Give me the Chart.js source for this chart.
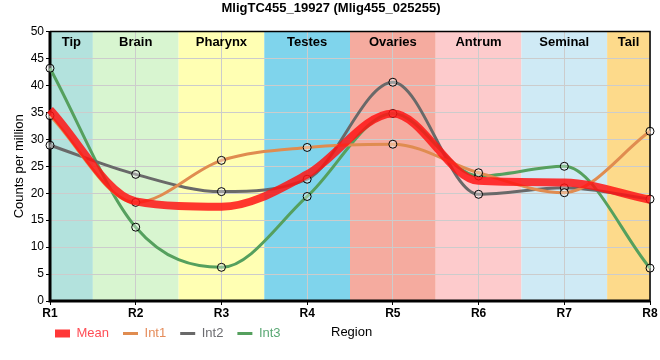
<!DOCTYPE html>
<html><head><meta charset="utf-8">
<script src="https://cdn.jsdelivr.net/npm/chart.js@4/dist/chart.umd.min.js"></script>
<style>html,body{margin:0;padding:0;background:#fff}#wrap{width:660px;height:360px}</style>
</head><body><div id="wrap"><canvas id="c" width="660" height="360"></canvas></div>
<script>
const categories = ['R1','R2','R3','R4','R5','R6','R7','R8'];
const meanValues = [35.5, 18.5, 17.5, 23.5, 34.8, 22.3, 22.0, 18.8];
const int1Values = [34.4, 18.3, 26.1, 28.5, 29.1, 23.8, 20.1, 31.5];
const int2Values = [28.9, 23.5, 20.3, 22.6, 40.6, 19.8, 21.0, 18.9];
const int3Values = [43.2, 13.7, 6.25, 19.4, 34.8, 23.2, 25.0, 6.1];
const regionNames = ['Tip','Brain','Pharynx','Testes','Ovaries','Antrum','Seminal','Tail'];
const regionColors = ['#b3e2dd','#d8f5d0','#ffffb3','#7fd4ec','#f5ab9f','#fdcbcc','#cfeaf5','#fdda8b'];
const yTicks = [0,5,10,15,20,25,30,35,40,45,50];

const FONT = "'Liberation Sans', Arial, sans-serif";

const bandsPlugin = {
  id: 'bands',
  beforeDraw(chart) {
    const {ctx, chartArea: a, scales: {x}} = chart;
    ctx.save();
    regionNames.forEach((n, i) => {
      const l = i === 0 ? a.left : (x.getPixelForValue(i - 1) + x.getPixelForValue(i)) / 2;
      const r = i === regionNames.length - 1 ? a.right : (x.getPixelForValue(i) + x.getPixelForValue(i + 1)) / 2;
      ctx.fillStyle = regionColors[i];
      ctx.fillRect(l, a.top, r - l, a.bottom - a.top);
    });
    ctx.restore();
  },
  beforeDatasetsDraw(chart) {
    const {ctx, chartArea: a, scales: {x}} = chart;
    ctx.save();
    ctx.fillStyle = '#000';
    ctx.font = 'bold 13px ' + FONT;
    ctx.textAlign = 'center';
    ctx.textBaseline = 'middle';
    regionNames.forEach((n, i) => {
      const l = i === 0 ? a.left : (x.getPixelForValue(i - 1) + x.getPixelForValue(i)) / 2;
      const r = i === regionNames.length - 1 ? a.right : (x.getPixelForValue(i) + x.getPixelForValue(i + 1)) / 2;
      ctx.fillText(n, (l + r) / 2, a.top + 11);
    });
    ctx.strokeStyle = '#000';
    ctx.lineWidth = 1.5;
    ctx.beginPath();
    ctx.moveTo(a.left, a.top); ctx.lineTo(a.right, a.top); ctx.lineTo(a.right, a.bottom);
    ctx.stroke();
    ctx.lineWidth = 3;
    ctx.beginPath();
    ctx.moveTo(a.left, a.top); ctx.lineTo(a.left, a.bottom); ctx.lineTo(a.right, a.bottom);
    ctx.stroke();
    ctx.restore();
  },
  afterLayout(chart) {
    if (chart.legend) { chart.legend.left += 29; chart.legend.top -= 10; }
  },
  afterDraw(chart) {
    const {ctx} = chart;
    ctx.save();
    ctx.fillStyle = '#000';
    ctx.font = '13px ' + FONT;
    ctx.textAlign = 'left';
    ctx.textBaseline = 'middle';
    ctx.fillText('Region', 331, 332);
    ctx.restore();
  }
};

const seriesStyle = [
  {label:'Mean', data: meanValues, color:'rgba(255,20,20,0.85)', text:'#ff4d55', w:8, pr:0, ps:'rect'},
  {label:'Int1', data: int1Values, color:'#e08c50', text:'#e58c5a', w:3, pr:4, ps:'line'},
  {label:'Int2', data: int2Values, color:'#696969', text:'#6c6c70', w:3, pr:4, ps:'line'},
  {label:'Int3', data: int3Values, color:'#55a05e', text:'#5aa874', w:3, pr:4, ps:'line'}
];

new Chart(document.getElementById('c'), {
  type: 'line',
  data: {
    labels: categories,
    datasets: seriesStyle.map(s => ({
      label: s.label, data: s.data, borderColor: s.color, backgroundColor: s.color,
      borderWidth: s.w, cubicInterpolationMode: 'monotone', fill: false,
      pointRadius: s.pr, pointHoverRadius: s.pr, pointBorderColor: '#000', pointBorderWidth: 1,
      pointBackgroundColor: 'rgba(255,255,255,0.35)'
    }))
  },
  options: {
    responsive: false, animation: false, devicePixelRatio: 1,
    layout: {padding: {left: 12, right: 10, top: 0, bottom: 0}},
    plugins: {
      title: {display: true, text: 'MligTC455_19927 (Mlig455_025255)', color: '#000',
        font: {family: FONT, size: 13, weight: 'bold'}, padding: {top: 1, bottom: 15}},
      tooltip: {enabled: false},
      legend: {
        position: 'bottom', align: 'start',
        labels: {
          usePointStyle: true, pointStyleWidth: 15, boxHeight: 8, padding: 14,
          font: {family: FONT, size: 13},
          generateLabels: () => seriesStyle.map((s, i) => ({
            text: s.label, fontColor: s.text, fillStyle: s.color, strokeStyle: s.color,
            lineWidth: s.ps === 'line' ? 3 : 0, pointStyle: s.ps, hidden: false, datasetIndex: i
          }))
        }
      }
    },
    scales: {
      x: {
        type: 'category', offset: false,
        grid: {color: '#cccccc', lineWidth: 1, drawTicks: true, tickLength: 4, tickColor: '#000'},
        border: {display: false},
        ticks: {color: '#000', font: {family: FONT, size: 12, weight: 'bold'}, padding: 1, maxRotation: 0, autoSkip: false},
        afterFit(s) { s.height = 22; }
      },
      y: {
        min: 0, max: 50,
        afterBuildTicks(s) { s.ticks = yTicks.map(v => ({value: v})); },
        grid: {color: '#cccccc', lineWidth: 1, tickLength: 4, tickColor: '#000'},
        border: {display: false},
        ticks: {color: '#000', font: {family: FONT, size: 12}, padding: 2},
        title: {display: true, text: 'Counts per million', color: '#000', font: {family: FONT, size: 13}, padding: {top: 0, bottom: 4}},
        afterFit(s) { s.width = 38; }
      }
    }
  },
  plugins: [bandsPlugin]
});
</script></body></html>
